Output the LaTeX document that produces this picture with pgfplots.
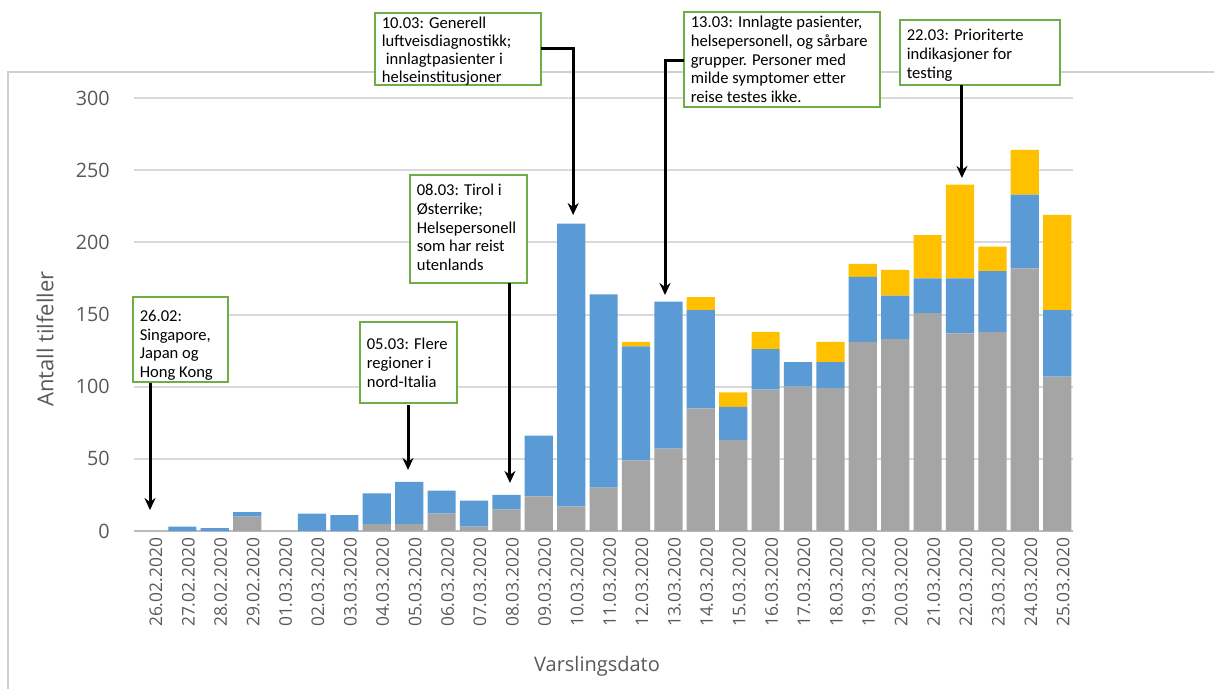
\documentclass[border=0pt]{standalone}
\usepackage{pgfplots}
\pgfplotsset{compat=1.18}
\usepackage{fontspec}
\setmainfont{Open Sans}
\newfontfamily\calibri{Carlito}
\usetikzlibrary{arrows.meta}
\definecolor{cgray}{HTML}{A5A5A5}
\definecolor{cblue}{HTML}{5B9BD5}
\definecolor{cyellow}{HTML}{FFC000}
\definecolor{ctext}{HTML}{595959}
\definecolor{cgrid}{HTML}{D9D9D9}
\definecolor{cbox}{HTML}{70AD47}
\definecolor{cframe}{HTML}{D0D0D0}

\pgfplotstableread{
i gray blue yellow
0 0 0 0
1 0 3 0
2 0 2 0
3 10 3 0
4 0 0 0
5 0 12 0
6 0 11 0
7 5 21 0
8 5 29 0
9 12 16 0
10 3 18 0
11 15 10 0
12 24 42 0
13 17 196 0
14 30 134 0
15 49 79 3
16 57 102 0
17 85 68 9
18 63 23 10
19 98 28 12
20 100 17 0
21 99 18 14
22 131 45 9
23 133 30 18
24 151 24 30
25 137 38 65
26 138 42 17
27 182 51 31
28 107 46 66
}\datatable

\begin{document}
\begin{tikzpicture}
\path[use as bounding box] (0,0) rectangle (607pt,-344.5pt);
% outer frame
\draw[cframe, line width=0.7pt] (4pt,-344.5pt) -- (4pt,-36pt) -- (607pt,-36pt);
% axis titles
\node[rotate=90, text=ctext, font=\fontsize{11}{13}\selectfont] at (22.5pt,-169.5pt) {Antall tilfeller};
\node[text=ctext, font=\fontsize{10}{12}\selectfont] at (298.5pt,-333pt) {Varslingsdato};
\begin{axis}[
  at={(66.9pt,-265.5pt)}, anchor=south west,
  scale only axis, width=469.8pt, height=216.5pt,
  ybar stacked, bar width=0.87,
  xmin=-0.5, xmax=28.5, ymin=0, ymax=300,
  ytick={0,50,...,300},
  xtick={0,...,28},
  xticklabels={26.02.2020,27.02.2020,28.02.2020,29.02.2020,01.03.2020,02.03.2020,03.03.2020,04.03.2020,05.03.2020,06.03.2020,07.03.2020,08.03.2020,09.03.2020,10.03.2020,11.03.2020,12.03.2020,13.03.2020,14.03.2020,15.03.2020,16.03.2020,17.03.2020,18.03.2020,19.03.2020,20.03.2020,21.03.2020,22.03.2020,23.03.2020,24.03.2020,25.03.2020},
  xticklabel style={rotate=90, anchor=east, yshift=-3pt, font=\fontsize{8.7}{10}\selectfont, text=ctext},
  yticklabel style={xshift=-8.5pt, font=\fontsize{9.9}{12}\selectfont, text=ctext},
  /pgf/number format/assume math mode=true,
  major tick length=0pt,
  axis line style={draw=none},
  ymajorgrids, grid style={cgrid, line width=1pt},
  clip=false,
]
\addplot[fill=cgray, draw=none] table[x=i, y=gray] {\datatable};
\addplot[fill=cblue, draw=none] table[x=i, y=blue] {\datatable};
\addplot[fill=cyellow, draw=none] table[x=i, y=yellow] {\datatable};

\draw[cframe!90!black, line width=1pt] (axis cs:-0.5,0) -- (axis cs:28.5,0);

\coordinate (b1a) at (axis cs:-0.525,162.1); \coordinate (b1b) at (axis cs:2.407,103.2);
\coordinate (a1a) at (axis cs:0,102.5); \coordinate (a1b) at (axis cs:0,14.5);
\coordinate (b2a) at (axis cs:6.481,144.8); \coordinate (b2b) at (axis cs:9.475,88.7);
\coordinate (a2a) at (axis cs:7.963,87.3); \coordinate (a2b) at (axis cs:7.963,42.3);
\coordinate (b3a) at (axis cs:8.025,246.7); \coordinate (b3b) at (axis cs:11.636,171.8);
\coordinate (a3a) at (axis cs:11.11,171.8); \coordinate (a3b) at (axis cs:11.11,33.3);
\coordinate (b4a) at (axis cs:6.944,358.9); \coordinate (b4b) at (axis cs:12.068,309.0);
\coordinate (a4a) at (axis cs:12.068,334.6); \coordinate (a4m) at (axis cs:13.06,334.6); \coordinate (a4b) at (axis cs:13.06,218.9);
\coordinate (b5a) at (axis cs:16.481,359.6); \coordinate (b5b) at (axis cs:22.531,293.8);
\coordinate (a5a) at (axis cs:16.481,326.3); \coordinate (a5m) at (axis cs:15.895,326.3); \coordinate (a5b) at (axis cs:15.895,163.5);
\coordinate (b6a) at (axis cs:23.148,354.0); \coordinate (b6b) at (axis cs:28.086,309.0);
\coordinate (a6a) at (axis cs:25.06,309.0); \coordinate (a6b) at (axis cs:25.06,244.6);
\end{axis}

% annotation boxes
\tikzset{abox/.style={draw=cbox, fill=white, line width=0.7pt},
         atext/.style={anchor=north west, align=left, inner xsep=3.2pt, inner ysep=4.5pt, font=\calibri\fontsize{8.3}{9.3}\selectfont, text=black},
         arr/.style={line width=1.5pt, -{Stealth[length=6pt, width=5.5pt]}}}

\draw[abox] (b1a) rectangle (b1b);
\node[atext, inner ysep=6.5pt] at (b1a) {26.02:\\Singapore,\\Japan og\\Hong Kong};
\draw[arr] (a1a) -- (a1b);

\draw[abox] (b2a) rectangle (b2b);
\node[atext, inner ysep=8pt] at (b2a) {05.03: Flere\\regioner i\\nord-Italia};
\draw[arr] (a2a) -- (a2b);

\draw[abox] (b3a) rectangle (b3b);
\node[atext] at (b3a) {08.03: Tirol i\\Østerrike;\\Helsepersonell\\som har reist\\utenlands};
\draw[arr] (a3a) -- (a3b);

\draw[abox] (b4a) rectangle (b4b);
\node[atext, inner ysep=2pt, font=\calibri\fontsize{8.3}{9}\selectfont] at (b4a) {10.03: Generell\\luftveisdiagnostikk;\\\hspace*{0.25em}innlagtpasienter i\\helseinstitusjoner};
\draw[arr] (a4a) -- (a4m) -- (a4b);

\draw[abox] (b5a) rectangle (b5b);
\node[atext, inner ysep=2pt] at (b5a) {13.03: Innlagte pasienter,\\helsepersonell, og sårbare\\grupper. Personer med\\milde symptomer etter\\reise testes ikke.};
\draw[arr] (a5a) -- (a5m) -- (a5b);

\draw[abox] (b6a) rectangle (b6b);
\node[atext] at (b6a) {22.03: Prioriterte\\indikasjoner for\\testing};
\draw[arr] (a6a) -- (a6b);
\end{tikzpicture}
\end{document}
